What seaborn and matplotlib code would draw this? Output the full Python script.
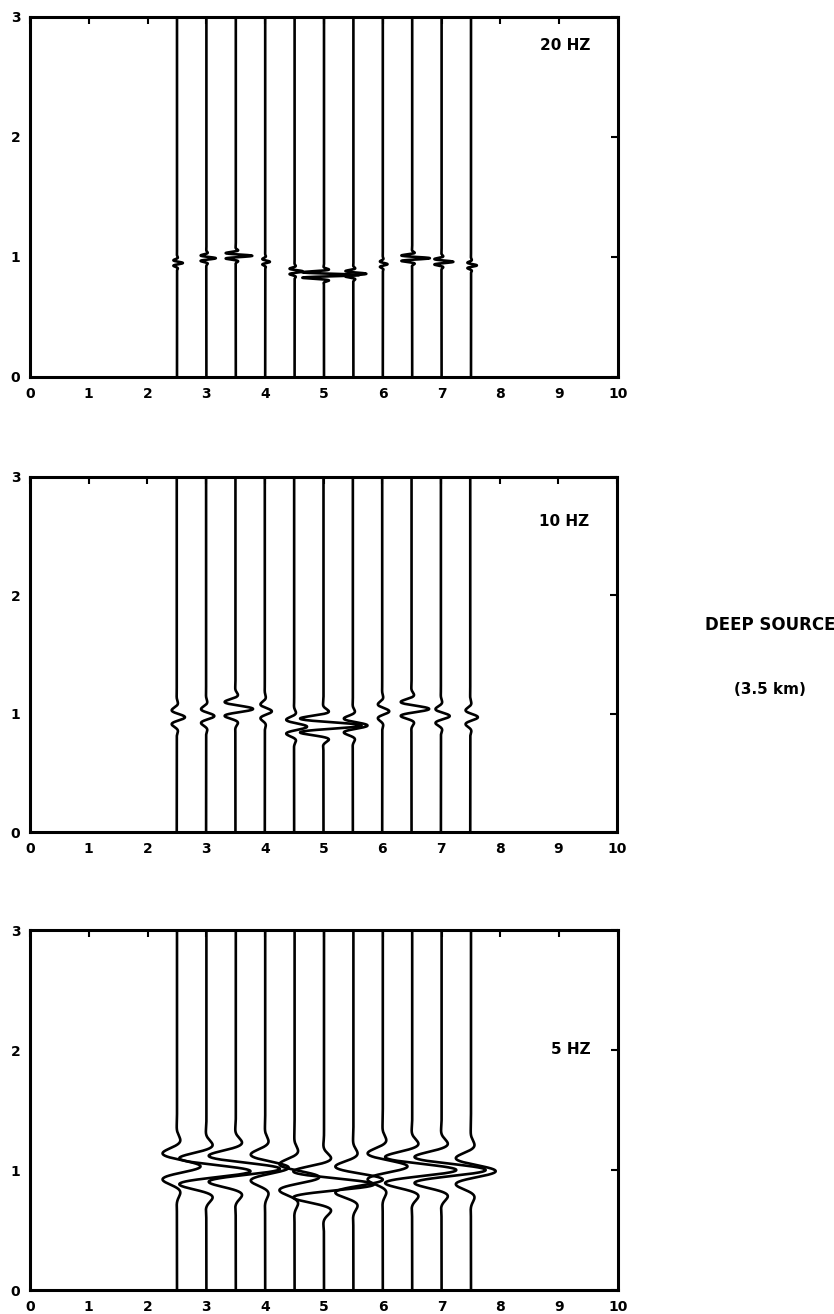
import numpy as np
import pandas as pd
import matplotlib
matplotlib.use("Agg")
import matplotlib.pyplot as plt
import seaborn as sns

sns.set_theme(style="white")
plt.rcParams["font.family"] = ["DejaVu Sans"]
plt.rcParams["text.color"] = "black"
plt.rcParams["xtick.color"] = "black"
plt.rcParams["ytick.color"] = "black"

# Receiver positions (km) shared by all three sections
offsets = [2.5, 3.0, 3.5, 4.0, 4.5, 5.0, 5.5, 6.0, 6.5, 7.0, 7.5]

# Source frequencies and wavelet periods (s)
freq_labels = ["20 HZ", "10 HZ", "5 HZ"]
periods = [0.05, 0.13, 0.24]

# Arrival times (s) per trace
t0_20 = [0.95, 0.99, 1.01, 0.96, 0.88, 0.85, 0.86, 0.94, 0.99, 0.96, 0.93]
t0_10 = [0.97, 0.98, 1.04, 1.02, 0.89, 0.90, 0.90, 1.02, 1.04, 0.98, 0.97]
t0_05 = [1.03, 0.99, 1.01, 1.02, 0.94, 0.88, 0.92, 1.03, 1.00, 1.00, 0.99]

# Peak trace deflection (km) per trace
amp_20 = [0.10, 0.16, 0.28, 0.08, 0.14, 0.60, 0.22, 0.08, 0.30, 0.20, 0.10]
amp_10 = [0.14, 0.14, 0.30, 0.12, 0.22, 0.65, 0.25, 0.12, 0.30, 0.15, 0.13]
amp_05 = [0.40, 0.75, 0.75, 0.40, 0.42, 0.85, 0.50, 0.42, 0.75, 0.75, 0.42]

arrivals = [t0_20, t0_10, t0_05]
amplitudes = [amp_20, amp_10, amp_05]

t = np.linspace(0.0, 3.0, 3001)


def section_frame(t0s, amps, period):
    rows = []
    sigma = 0.68 * period
    for k, (x0, ta, a) in enumerate(zip(offsets, t0s, amps)):
        tau = t - ta
        w = a * np.cos(2 * np.pi * tau / period) * np.exp(-(tau / sigma) ** 2)
        rows.append(pd.DataFrame({"trace": k, "x": x0 + w, "t": t}))
    return pd.concat(rows, ignore_index=True)


W, H = 834, 1314
fig = plt.figure(figsize=(W / 100, H / 100), dpi=100)

# axes boxes in pixel coordinates: left, top, right, bottom
boxes = [(30, 17, 618, 377), (30, 477, 617, 832), (30, 930, 618, 1290)]
label_pos = [(0.91, 0.92), (0.91, 0.875), (0.92, 0.667)]

for i, (l, tp, r, b) in enumerate(boxes):
    ax = fig.add_axes([l / W, 1 - b / H, (r - l) / W, (b - tp) / H])
    df = section_frame(arrivals[i], amplitudes[i], periods[i])
    sns.lineplot(data=df, x="x", y="t", units="trace", estimator=None,
                 sort=False, color="black", linewidth=1.9, ax=ax, legend=False)
    ax.set_xlim(0, 10)
    ax.set_ylim(0, 3)
    ax.set_xlabel("")
    ax.set_ylabel("")
    ax.set_xticks(range(0, 11))
    ax.set_yticks([0, 1, 2, 3])
    ax.tick_params(direction="in", length=5, width=1.5, top=True, right=True,
                   labelsize=10, pad=7, colors="black")
    for lab in ax.get_xticklabels() + ax.get_yticklabels():
        lab.set_fontweight("bold")
    for s in ax.spines.values():
        s.set_visible(True)
        s.set_color("black")
        s.set_linewidth(2.2)
    ax.text(label_pos[i][0], label_pos[i][1], freq_labels[i], transform=ax.transAxes,
            ha="center", va="center", fontsize=11, fontweight="bold", color="black")

fig.text(770 / W, 1 - 625 / H, "DEEP SOURCE", ha="center", va="center",
         fontsize=12, fontweight="bold", color="black")
fig.text(770 / W, 1 - 690 / H, "(3.5 km)", ha="center", va="center",
         fontsize=11, fontweight="bold", color="black")

fig.savefig("out.png", dpi=100, facecolor="white")
